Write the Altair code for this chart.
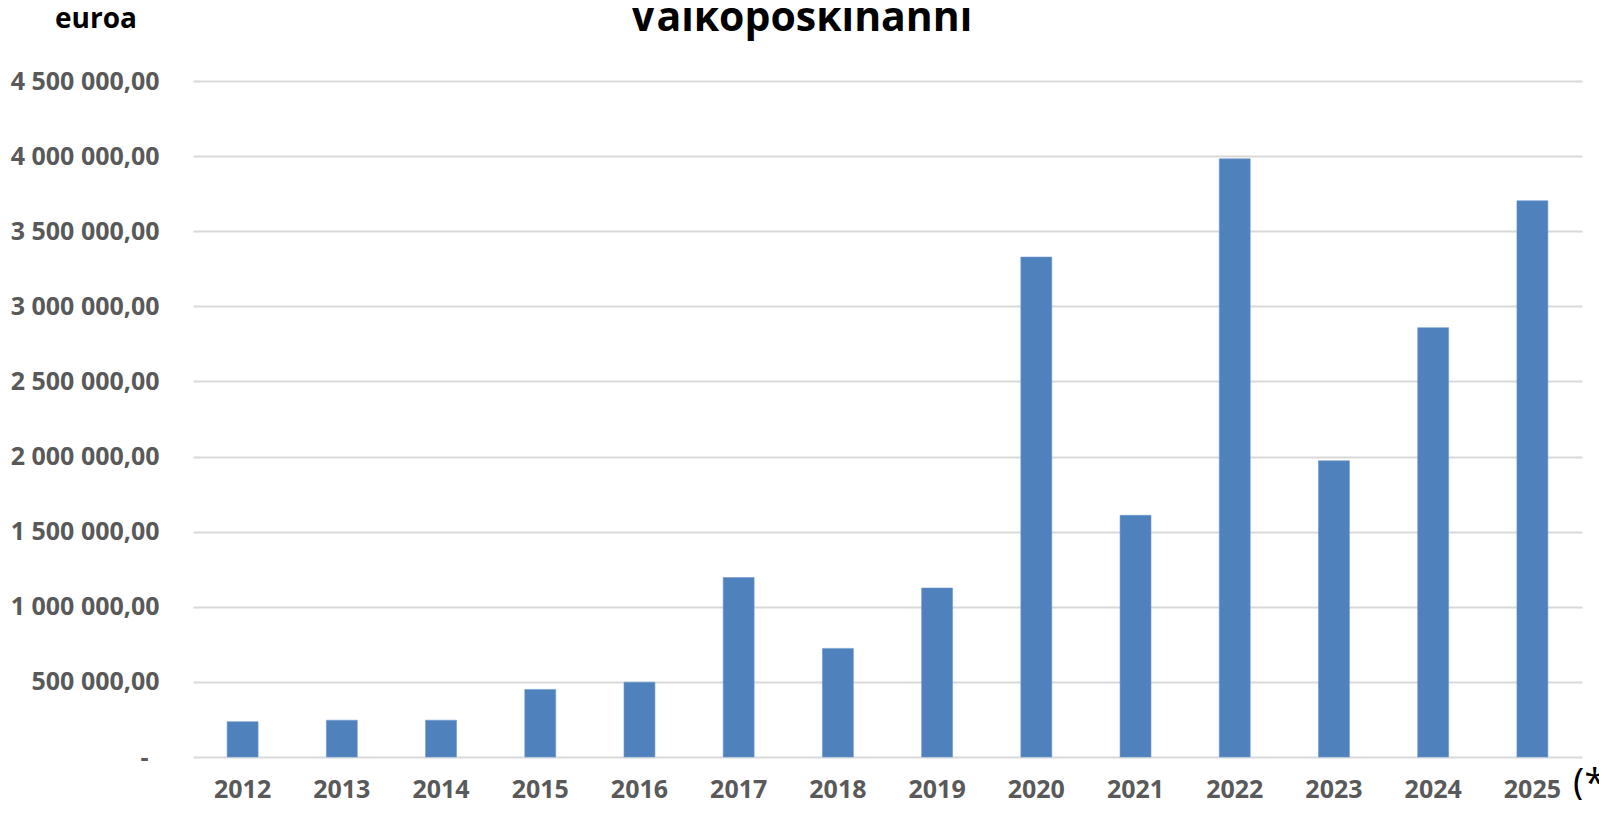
import altair as alt
import pandas as pd

years = ["2012", "2013", "2014", "2015", "2016", "2017", "2018",
         "2019", "2020", "2021", "2022", "2023", "2024", "2025"]
values = [235000, 245000, 245000, 450000, 498000, 1195000, 723000,
          1125000, 3328000, 1609000, 3982000, 1972000, 2858000, 3703000]
title_text = ["Valkoposkihanhi"]
unit_text = ["euroa"]
note_text = ["(*"]

df = pd.DataFrame({"year": years, "value": values})

W, H = 1389, 676
label_expr = (
    "datum.value == 0 ? '-' : "
    "replace(replace(format(datum.value, ',.2f'), regexp(',', 'g'), ' '), '.', ',')"
)

bars = alt.Chart(df).mark_bar(color="#4f81bd", stroke="#6f9bd1", strokeWidth=0.6).encode(
    x=alt.X("year:N", sort=years, title=None,
            scale=alt.Scale(paddingInner=0.688, paddingOuter=0.344),
            axis=alt.Axis(labelAngle=0, ticks=False, tickSize=0, domain=False,
                          labelFont="Open Sans", labelFontWeight="bold",
                          labelFontSize=25, labelColor="#595959",
                          labelBaseline="alphabetic", labelPadding=40)),
    y=alt.Y("value:Q", title=None,
            scale=alt.Scale(domain=[0, 4500000], nice=False),
            axis=alt.Axis(values=list(range(0, 4500001, 500000)),
                          labelExpr=label_expr, ticks=False, tickSize=0, domain=False,
                          grid=True, gridColor="#d9d9d9", gridWidth=2,
                          labelFont="Open Sans", labelFontWeight="bold",
                          labelFontSize=25, labelColor="#595959",
                          labelPadding={"condition": {"test": "datum.value == 0", "value": 45},
                                        "value": 34},
                          labelBaseline="middle")),
)

title = alt.Chart(pd.DataFrame({"t": title_text})).mark_text(
    font="Open Sans", fontWeight="bold", fontSize=41, color="black",
    align="center", baseline="alphabetic"
).encode(text="t:N", x=alt.value(608), y=alt.value(-50))

unit = alt.Chart(pd.DataFrame({"t": unit_text})).mark_text(
    font="Open Sans", fontWeight="bold", fontSize=28, color="black",
    align="center", baseline="alphabetic"
).encode(text="t:N", x=alt.value(-97), y=alt.value(-53))

note = alt.Chart(pd.DataFrame({"t": note_text})).mark_text(
    font="Open Sans", fontSize=38, color="black",
    align="left", baseline="alphabetic"
).encode(text="t:N", x=alt.value(1380), y=alt.value(715))

chart = alt.layer(bars, title, unit, note).properties(
    width=W, height=H,
    autosize=alt.AutoSizeParams(type="none"),
    padding={"left": 185, "top": 73, "right": 17, "bottom": 43},
).configure_view(stroke=None)

chart.save("out.html", embed_options={"renderer": "svg", "actions": False})
